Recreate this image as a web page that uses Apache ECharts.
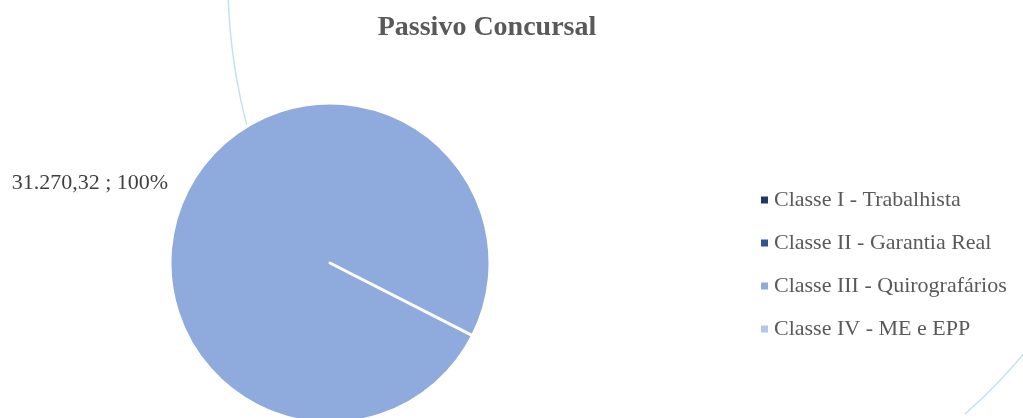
<!DOCTYPE html>
<html>
<head>
<meta charset="utf-8">
<script src="https://cdn.jsdelivr.net/npm/echarts@6/dist/echarts.min.js"></script>
<style>
  html, body { margin: 0; padding: 0; background: #fff; }
  #chart { width: 1023px; height: 418px; }
</style>
</head>
<body>
<div id="chart"></div>
<script>
const categories = ['Classe I - Trabalhista', 'Classe II - Garantia Real', 'Classe III - Quirografários', 'Classe IV - ME e EPP'];
const values = [0, 0, 31270.32, 0];
const colors = ['#203864', '#2f5597', '#8faadc', '#b4c7e7'];

const total = values.reduce((a, b) => a + b, 0);
const fmt = v => v.toLocaleString('pt-BR', { minimumFractionDigits: 2, maximumFractionDigits: 2 });

const chart = echarts.init(document.getElementById('chart'));

const option = {
    animation: false,
    title: {
        text: 'Passivo Concursal',
        left: 482,
        top: 9,
        textAlign: 'center',
        textStyle: {
            fontFamily: 'Liberation Serif',
            fontWeight: 'bold',
            fontSize: 28,
            color: '#595959'
        }
    },
    legend: {
        orient: 'vertical',
        left: 754,
        top: 184,
        itemWidth: 9,
        itemHeight: 9,
        itemGap: 21,
        icon: 'rect',
        textStyle: {
            fontFamily: 'Liberation Serif',
            fontSize: 22,
            color: '#595959'
        },
        data: categories
    },
    graphic: [
        {
            type: 'arc',
            shape: { cx: 797, cy: -20, r: 569, startAngle: Math.PI * 0.915, endAngle: Math.PI * 1.0 },
            style: { stroke: '#c4e2ec', lineWidth: 1.5, fill: null },
            silent: true
        },
        {
            type: 'arc',
            shape: { cx: 600, cy: 0, r: 552, startAngle: Math.PI * 0.2, endAngle: Math.PI * 0.27 },
            style: { stroke: '#c4e2ec', lineWidth: 1.5, fill: null },
            silent: true
        }
    ],
    series: [
        {
            type: 'pie',
            center: [330, 263],
            radius: 160,
            startAngle: -27,
            clockwise: true,
            stillShowZeroSum: true,
            itemStyle: {
                borderColor: '#ffffff',
                borderWidth: 3
            },
            label: {
                position: 'outside',
                overflow: 'none',
                fontFamily: 'Liberation Serif',
                fontSize: 22,
                color: '#404040',
                formatter: p => p.value > 0 ? fmt(p.value) + ' ; ' + Math.round(p.value / total * 100) + '%' : ''
            },
            labelLine: { show: false, length: 16, length2: 0 },
            data: categories.map((c, i) => ({
                name: c,
                value: values[i],
                itemStyle: { color: colors[i] },
                label: { show: values[i] > 0 }
            }))
        }
    ]
};

chart.setOption(option);
</script>
</body>
</html>
